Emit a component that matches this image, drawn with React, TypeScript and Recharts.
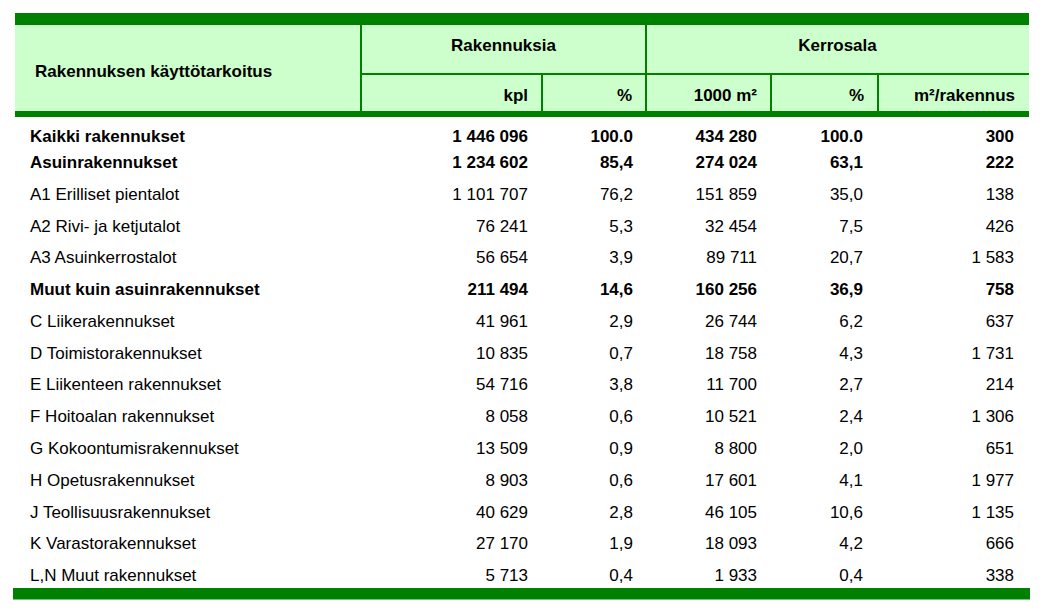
import { ComposedChart, XAxis, YAxis, Scatter, ReferenceArea, ReferenceLine } from "recharts"

const W = 1056
const H = 608
const FONT = "'Liberation Sans', Arial, sans-serif"
const GREEN = "#008000"
const LIGHT = "#ccffcc"

const rowLabels = [
  "Kaikki rakennukset",
  "Asuinrakennukset",
  "A1 Erilliset pientalot",
  "A2 Rivi- ja ketjutalot",
  "A3 Asuinkerrostalot",
  "Muut kuin asuinrakennukset",
  "C Liikerakennukset",
  "D Toimistorakennukset",
  "E Liikenteen rakennukset",
  "F Hoitoalan rakennukset",
  "G Kokoontumisrakennukset",
  "H Opetusrakennukset",
  "J Teollisuusrakennukset",
  "K Varastorakennukset",
  "L,N Muut rakennukset",
]
const buildingCount = [1446096, 1234602, 1101707, 76241, 56654, 211494, 41961, 10835, 54716, 8058, 13509, 8903, 40629, 27170, 5713]
const buildingShare = [100.0, 85.4, 76.2, 5.3, 3.9, 14.6, 2.9, 0.7, 3.8, 0.6, 0.9, 0.6, 2.8, 1.9, 0.4]
const floorArea = [434280, 274024, 151859, 32454, 89711, 160256, 26744, 18758, 11700, 10521, 8800, 17601, 46105, 18093, 1933]
const floorShare = [100.0, 63.1, 35.0, 7.5, 20.7, 36.9, 6.2, 4.3, 2.7, 2.4, 2.0, 4.1, 10.6, 4.2, 0.4]
const areaPerBuilding = [300, 222, 138, 426, 1583, 758, 637, 1731, 214, 1306, 651, 1977, 1135, 666, 338]
const boldRows = [0, 1, 5]

const fmtInt = (v: number) => String(v).replace(/\B(?=(\d{3})+(?!\d))/g, " ")
const fmtPct = (v: number) => (v === 100 ? "100.0" : v.toFixed(1).replace(".", ","))

// column anchors (x in px), text alignment
const columns = [
  { key: "label", x: 30, anchor: "start", values: rowLabels },
  { key: "kpl", x: 528, anchor: "end", values: buildingCount.map(fmtInt) },
  { key: "pct1", x: 633, anchor: "end", values: buildingShare.map(fmtPct) },
  { key: "area", x: 757, anchor: "end", values: floorArea.map(fmtInt) },
  { key: "pct2", x: 863, anchor: "end", values: floorShare.map(fmtPct) },
  { key: "perBuilding", x: 1014, anchor: "end", values: areaPerBuilding.map(fmtInt) },
]

const headerCells = [
  { x1: 15, x2: 361, y1: 25, y2: 111, text: "Rakennuksen käyttötarkoitus", align: "start", dy: 2.5 },
  { x1: 361, x2: 646, y1: 25, y2: 74, text: "Rakennuksia", align: "middle", dy: -5 },
  { x1: 646, x2: 1029, y1: 25, y2: 74, text: "Kerrosala", align: "middle", dy: -5 },
  { x1: 361, x2: 542, y1: 74, y2: 111, text: "kpl", align: "end", dy: 2.5 },
  { x1: 542, x2: 646, y1: 74, y2: 111, text: "%", align: "end", dy: 2.5 },
  { x1: 646, x2: 771, y1: 74, y2: 111, text: "1000 m²", align: "end", dy: 2.5 },
  { x1: 771, x2: 878, y1: 74, y2: 111, text: "%", align: "end", dy: 2.5 },
  { x1: 878, x2: 1029, y1: 74, y2: 111, text: "m²/rakennus", align: "end", dy: 2.5 },
]

const headerLines = [
  [361, 25, 361, 111],
  [646, 25, 646, 111],
  [361, 74, 1029, 74],
  [542, 74, 542, 111],
  [771, 74, 771, 111],
  [878, 74, 878, 111],
]

const headerLabel = (cell: (typeof headerCells)[number]) => (props: any) => {
  const vb = props.viewBox
  const x = cell.align === "start" ? vb.x + 20 : cell.align === "middle" ? vb.x + vb.width / 2 : vb.x + vb.width - 14
  const y = vb.y + vb.height / 2 + cell.dy
  return (
    <text x={x} y={y} dy="0.36em" textAnchor={cell.align} fontFamily={FONT} fontSize={17} fontWeight="bold" fill="#000">
      {cell.text}
    </text>
  )
}

export default function App() {
  return (
    <div style={{ position: "absolute", left: 0, top: 0, width: W, height: H, background: "#fff" }}>
      <ComposedChart width={W} height={H} margin={{ top: 0, right: 0, bottom: 0, left: 0 }}>
        <XAxis type="number" dataKey="x" domain={[0, W]} allowDataOverflow hide />
        <YAxis yAxisId="px" type="number" domain={[0, H]} allowDataOverflow reversed hide />
        <YAxis
          yAxisId="rows"
          type="category"
          dataKey="label"
          allowDuplicatedCategory={false}
          reversed
          padding={{ top: 130.2, bottom: 33 }}
          hide
        />

        <ReferenceArea yAxisId="px" x1={15} x2={1029} y1={25} y2={111} fill={LIGHT} fillOpacity={1} stroke="none" />
        <ReferenceArea yAxisId="px" x1={15} x2={1029} y1={13} y2={25} fill={GREEN} fillOpacity={1} stroke="none" />
        <ReferenceArea yAxisId="px" x1={15} x2={1029} y1={111} y2={117} fill={GREEN} fillOpacity={1} stroke="none" />
        <ReferenceArea yAxisId="px" x1={13} x2={1030} y1={588} y2={599.5} fill={GREEN} fillOpacity={1} stroke="none" />

        {headerLines.map(([x1, y1, x2, y2], i) => (
          <ReferenceLine
            key={`hl-${i}`}
            yAxisId="px"
            segment={[{ x: x1, y: y1 }, { x: x2, y: y2 }]}
            stroke={GREEN}
            strokeWidth={2}
          />
        ))}

        {headerCells.map((cell, i) => (
          <ReferenceArea
            key={`hc-${i}`}
            yAxisId="px"
            x1={cell.x1}
            x2={cell.x2}
            y1={cell.y1}
            y2={cell.y2}
            fill="none"
            stroke="none"
            label={headerLabel(cell)}
          />
        ))}

        {columns.map((col) => (
          <Scatter
            key={col.key}
            yAxisId="rows"
            isAnimationActive={false}
            data={rowLabels.map((label, i) => ({
              label,
              x: col.x,
              text: col.values[i],
              bold: boldRows.includes(i),
              nudge: i === 0 ? 6 : 0,
            }))}
            shape={(p: any) => (
              <text
                x={p.cx}
                y={p.cy + p.payload.nudge}
                dy="0.36em"
                textAnchor={col.anchor}
                fontFamily={FONT}
                fontSize={17}
                fontWeight={p.payload.bold ? "bold" : "normal"}
                fill="#000"
              >
                {p.payload.text}
              </text>
            )}
          />
        ))}
      </ComposedChart>
    </div>
  )
}
